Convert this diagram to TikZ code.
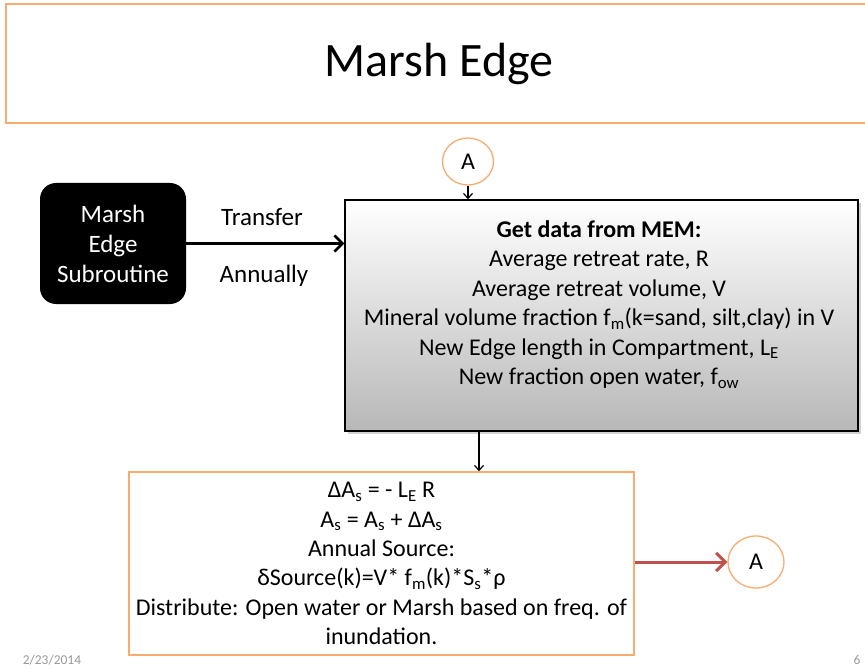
\documentclass[tikz,border=0pt]{standalone}
\usepackage{fontspec}
\setmainfont{Carlito}
\usetikzlibrary{arrows.meta,shadows,shapes.geometric}
\definecolor{orl}{RGB}{248,172,112}
\definecolor{redarrow}{RGB}{192,80,77}
\begin{document}
\begin{tikzpicture}[x=1pt,y=-1pt,
  txt/.style={font=\fontsize{24}{29.4}\selectfont, align=center},
  titlebox/.style={draw=orl, line width=1.5pt, minimum width=866pt, minimum height=119pt, inner sep=0pt, font=\fontsize{48}{52}\selectfont},
  blackbox/.style={fill=black, rounded corners=16pt, minimum width=146pt, minimum height=121pt, inner sep=0pt, text=white, txt, font=\fontsize{25}{30}\selectfont},
  graybox/.style={draw=black, line width=1.5pt, top color=white, bottom color=black!28, minimum width=513pt, minimum height=231pt, inner sep=0pt, drop shadow={shadow xshift=3pt, shadow yshift=-3pt, opacity=0.35}},
  orangebox/.style={draw=orl, line width=1.5pt, minimum width=505pt, minimum height=183pt, inner sep=0pt, txt},
  conn/.style={draw=orl, line width=1.3pt, ellipse, inner sep=0pt, font=\fontsize{24}{28}\selectfont},
  thinarrow/.style={line width=1.2pt, -{Straight Barb[length=5pt,width=9pt]}},
  thickarrow/.style={line width=2.6pt, -{Straight Barb[length=8pt,width=16pt]}},
  redarr/.style={draw=redarrow, line width=3pt, -{Straight Barb[length=9pt,width=18pt]}},
  lbl/.style={font=\fontsize{25}{29}\selectfont},
  foot/.style={font=\fontsize{13.5}{16}\selectfont, text=black!40}
]
\useasboundingbox (0,0) rectangle (865,671);
\fill[white] (0,0) rectangle (865,671);

\node[titlebox] (title) at (439,63.5) {Marsh Edge};

\node[blackbox] (sub) at (113,243.5) {Marsh\\Edge\\Subroutine};

\node[graybox] (gray) at (601.5,315.5) {};
\node[txt] (graytext) at (599,304.5) {\textbf{Get data from MEM:}\\
Average retreat rate, R\\
Average retreat volume, V\\
Mineral volume fraction f\textsubscript{m}(k=sand, silt,clay) in V\\
New Edge length in Compartment, L\textsubscript{E}\\
New fraction open water, f\textsubscript{ow}};

\node[conn, minimum width=51pt, minimum height=47pt] (A1) at (468,161.5) {A};
\node[conn, minimum width=56pt, minimum height=52pt] (A2) at (756,562) {A};

\node[orangebox] (calc) at (381.5,563.5) {ΔA\textsubscript{s} = - L\textsubscript{E} R\\
A\textsubscript{s} = A\textsubscript{s} + ΔA\textsubscript{s}\\
Annual Source:\\
δSource(k)=V* f\textsubscript{m}(k)*S\textsubscript{s}*ρ\\
Distribute: Open water or Marsh based on freq. of\\
inundation.};

\coordinate (d) at (479,0);

\draw[thickarrow] (sub.east) -- (sub.east -| gray.west);
\node[lbl] (transfer) at (262,217) {Transfer};
\node[lbl] (annually) at (264,276) {Annually};

\draw[thinarrow] (A1.south) -- (A1.south |- gray.north);
\draw[thinarrow] (gray.south -| d) -- (calc.north -| d);
\draw[redarr] (calc.east |- A2.west) -- (A2.west);

\node[foot] (date) at (52,660) {2/23/2014};
\node[foot] (page) at (857,660) {6};
\end{tikzpicture}
\end{document}
